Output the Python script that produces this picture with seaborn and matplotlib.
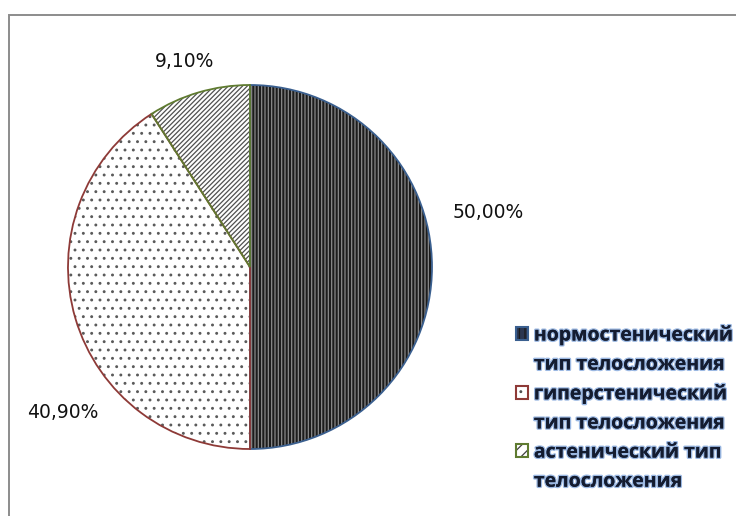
import matplotlib
matplotlib.use("Agg")
import matplotlib.pyplot as plt
import matplotlib.patheffects as pe
from matplotlib.patches import Patch, Rectangle
import seaborn as sns

# Body-type distribution
categories = [
    "нормостенический\nтип телосложения",
    "гиперстенический\nтип телосложения",
    "астенический тип\nтелосложения",
]
shares = [50.0, 40.9, 9.1]
value_labels = ["50,00%", "40,90%", "9,10%"]

# Styling per slice: fill, hatch, hatch colour, outline colour
fills = ["#1c1c1c", "#ffffff", "#ffffff"]
hatches = ["|||||", "..", "///////"]
hatch_colors = ["#8a8a8a", "#5a5a5a", "#505050"]
outline_colors = ["#3a5f8f", "#8e3a37", "#5f7b30"]
legend_fills = ["#2b3650", "#ffffff", "#ffffff"]
legend_hatch_colors = ["#1a1a1a", "#505050", "#404040"]
# Label anchor points in pie units (radius = 1)
label_xy = [(1.31, 0.30), (-1.03, -0.80), (-0.36, 1.13)]

sns.set_theme(style="white")
plt.rcParams["hatch.linewidth"] = 0.9

W, H = 736, 516
fig = plt.figure(figsize=(W / 100, H / 100), dpi=100)
fig.patch.set_facecolor("white")

# Square axes holding the pie
cx, cy, r = 250, 267, 182
ax = fig.add_axes([(cx - r) / W, (H - cy - r) / H, 2 * r / W, 2 * r / H])

# Layer 1: hatched fills
wedges, _ = ax.pie(shares, startangle=90, counterclock=False,
                   colors=fills, wedgeprops=dict(linewidth=0))
for w, h, hc in zip(wedges, hatches, hatch_colors):
    w.set_hatch(h)
    w.set_edgecolor(hc)
    w.set_linewidth(0)

# Layer 2: coloured outlines
outlines, _ = ax.pie(shares, startangle=90, counterclock=False,
                     wedgeprops=dict(fill=False, linewidth=1.3))
for w, ec in zip(outlines, outline_colors):
    w.set_edgecolor(ec)

ax.set_xlim(-1, 1)
ax.set_ylim(-1, 1)
ax.set_aspect("equal")

for (x, y), txt in zip(label_xy, value_labels):
    ax.text(x, y, txt, ha="center", va="center", fontsize=13.5,
            family="DejaVu Sans", color="#111111")

# Legend swatches: hatch layer plus coloured border
swatches = []
for fc, h, hc, ec in zip(legend_fills, hatches, legend_hatch_colors, outline_colors):
    fill = Patch(facecolor=fc, hatch=h[:3], edgecolor=hc, linewidth=0)
    border = Patch(fill=False, edgecolor=ec, linewidth=1.5)
    swatches.append((fill, border))

# One legend entry per text line, swatch on the first line of each category
handles, texts = [], []
for cat, sw in zip(categories, swatches):
    lines = cat.split("\n")
    handles.append(sw)
    texts.append(lines[0])
    for extra in lines[1:]:
        handles.append(Patch(visible=False))
        texts.append(extra)

leg = fig.legend(handles, texts, loc="upper left",
                 bbox_to_anchor=(516 / W, 1 - 325 / H),
                 frameon=False, handlelength=0.62, handleheight=0.62,
                 handletextpad=0.3, labelspacing=0.47, borderpad=0,
                 borderaxespad=0,
                 prop=dict(family="Open Sans", weight="bold", size=14))
for t in leg.get_texts():
    t.set_color("#141c30")
    t.set_path_effects([pe.withStroke(linewidth=2.0, foreground="#9bb8e2"),
                        pe.Normal()])

# Outer chart border
fig.add_artist(Rectangle((8.5 / W, -0.1), 2, 1 - 14.5 / H + 0.1,
                         transform=fig.transFigure, fill=False,
                         edgecolor="#8c8c8c", linewidth=1.4))

fig.savefig("out.png", dpi=100, facecolor="white")
